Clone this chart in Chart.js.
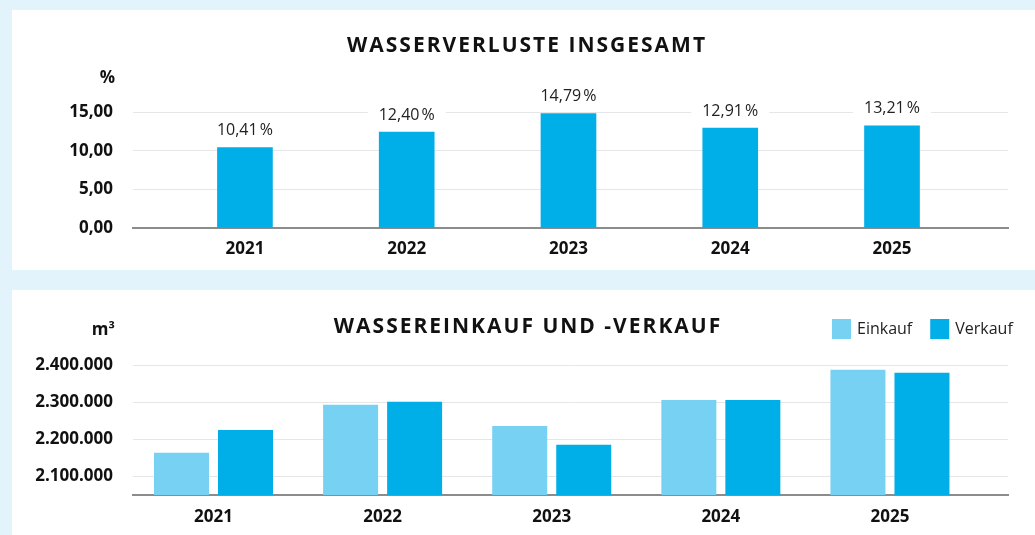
<!DOCTYPE html>
<html>
<head>
<meta charset="utf-8">
<script src="https://cdn.jsdelivr.net/npm/chart.js@4"></script>
<style>
body { margin: 0; background: #e2f3fc; width: 1035px; height: 535px; overflow: hidden; position: relative; }
.panel { position: absolute; left: 12px; width: 1023px; background: #fff; }
#p1 { top: 10px; height: 260px; }
#p2 { top: 290px; height: 245px; }
canvas { display: block; }
</style>
</head>
<body>
<div class="panel" id="p1"><canvas id="lossChart" width="1023" height="260"></canvas></div>
<div class="panel" id="p2"><canvas id="tradeChart" width="1023" height="245"></canvas></div>
<script>
var years = [2021, 2022, 2023, 2024, 2025];
var lossPercent = [10.41, 12.40, 14.79, 12.91, 13.21];
var lossTicks = [0, 5, 10, 15];
var einkauf = [2164000, 2293000, 2236000, 2306000, 2387000];
var verkauf = [2225000, 2301000, 2185000, 2306000, 2379000];
var tradeTicks = [2100000, 2200000, 2300000, 2400000];

var FONT = 'Open Sans';
var lightBlue = '#76d1f3';
var blue = '#00aee8';

function dePercent(v) {
    return v.toFixed(2).replace('.', ',');
}

function deThousands(v) {
    return String(Math.round(v)).replace(/\B(?=(\d{3})+(?!\d))/g, '.');
}

function points(values) {
    return years.map(function(y, i) {
        return { x: y, y: values[i] };
    });
}

// title + unit label, drawn on the canvas
var panelText = {
    id: 'panelText',
    afterDraw: function(chart, args, opts) {
        var ctx = chart.ctx;
        ctx.save();
        ctx.fillStyle = '#111';
        ctx.font = 'bold 21px "' + FONT + '"';
        ctx.letterSpacing = '2px';
        ctx.textAlign = 'center';
        ctx.textBaseline = 'middle';
        ctx.fillText(opts.title, opts.titleX, opts.titleY);
        ctx.letterSpacing = '0px';
        ctx.font = 'bold 17px "' + FONT + '"';
        ctx.textAlign = 'right';
        ctx.fillText(opts.unit, chart.chartArea.left - 18, opts.unitY);
        ctx.restore();
    }
};

// value labels above the bars, with a white box behind
var valueLabels = {
    id: 'valueLabels',
    afterDatasetsDraw: function(chart) {
        var ctx = chart.ctx;
        var meta = chart.getDatasetMeta(0);
        ctx.save();
        ctx.font = '16px "' + FONT + '"';
        ctx.textAlign = 'center';
        ctx.textBaseline = 'middle';
        meta.data.forEach(function(bar, i) {
            var cy = bar.y - 17;
            ctx.fillStyle = '#fff';
            ctx.fillRect(bar.x - 39, cy - 11, 78, 22);
            ctx.fillStyle = '#222';
            ctx.fillText(dePercent(lossPercent[i]) + '\u202F%', bar.x, cy);
        });
        ctx.restore();
    }
};

// legend in the top right corner
var boxLegend = {
    id: 'boxLegend',
    afterDraw: function(chart, args, opts) {
        var ctx = chart.ctx;
        var x = opts.x;
        ctx.save();
        ctx.font = '16px "' + FONT + '"';
        ctx.textBaseline = 'middle';
        ctx.textAlign = 'left';
        chart.data.datasets.forEach(function(ds) {
            ctx.fillStyle = ds.backgroundColor;
            ctx.fillRect(x, opts.y - 10, 19, 20);
            ctx.fillStyle = '#222';
            ctx.fillText(ds.label, x + 25, opts.y);
            x += 25 + ctx.measureText(ds.label).width + 18;
        });
        ctx.restore();
    }
};

function xAxis(min, max, height, pad) {
    return {
        type: 'linear',
        min: min,
        max: max,
        offset: false,
        afterBuildTicks: function(s) {
            s.ticks = years.map(function(y) { return { value: y }; });
        },
        afterFit: function(s) { s.height = height; },
        grid: { display: false, drawTicks: false, offset: false },
        border: { display: true, color: '#8c8c8c', width: 2 },
        ticks: {
            padding: pad,
            autoSkip: false,
            maxRotation: 0,
            color: '#111',
            font: { family: FONT, weight: 'bold', size: 17 },
            callback: function(v) { return String(v); }
        }
    };
}

function yAxis(min, max, tickList, fmt) {
    return {
        min: min,
        max: max,
        afterBuildTicks: function(s) {
            s.ticks = tickList.map(function(v) { return { value: v }; });
        },
        afterFit: function(s) { s.width = 121; },
        grid: { color: '#e6e6e9', drawTicks: false },
        border: { display: false },
        ticks: {
            padding: 20,
            color: '#111',
            font: { family: FONT, weight: 'bold', size: 17 },
            callback: fmt
        }
    };
}

new Chart(document.getElementById('lossChart').getContext('2d'), {
    type: 'bar',
    data: {
        datasets: [{
            label: 'Wasserverluste',
            data: points(lossPercent),
            backgroundColor: blue,
            barThickness: 55
        }]
    },
    options: {
        responsive: false,
        animation: false,
        layout: { padding: { top: 102, right: 27, left: 0, bottom: 0 } },
        scales: {
            x: xAxis(2020.308, 2025.717, 42, 11),
            y: yAxis(0, 15, lossTicks, dePercent)
        },
        plugins: {
            legend: { display: false },
            tooltip: { enabled: false },
            panelText: { title: 'WASSERVERLUSTE INSGESAMT', titleX: 515, titleY: 36, unit: '%', unitY: 68 }
        }
    },
    plugins: [panelText, valueLabels]
});

new Chart(document.getElementById('tradeChart').getContext('2d'), {
    type: 'bar',
    data: {
        datasets: [{
            label: 'Einkauf',
            data: points(einkauf),
            backgroundColor: lightBlue,
            categoryPercentage: 0.757,
            barPercentage: 0.859
        },
        {
            label: 'Verkauf',
            data: points(verkauf),
            backgroundColor: blue,
            categoryPercentage: 0.757,
            barPercentage: 0.859
        }]
    },
    options: {
        responsive: false,
        animation: false,
        layout: { padding: { top: 75, right: 27, left: 0, bottom: 0 } },
        scales: {
            x: xAxis(2020.524, 2025.698, 40, 12),
            y: yAxis(2050000, 2400000, tradeTicks, deThousands)
        },
        plugins: {
            legend: { display: false },
            tooltip: { enabled: false },
            panelText: { title: 'WASSEREINKAUF UND -VERKAUF', titleX: 516, titleY: 37, unit: 'm\u00B3', unitY: 40 },
            boxLegend: { x: 820, y: 39 }
        }
    },
    plugins: [panelText, boxLegend]
});
</script>
</body>
</html>
